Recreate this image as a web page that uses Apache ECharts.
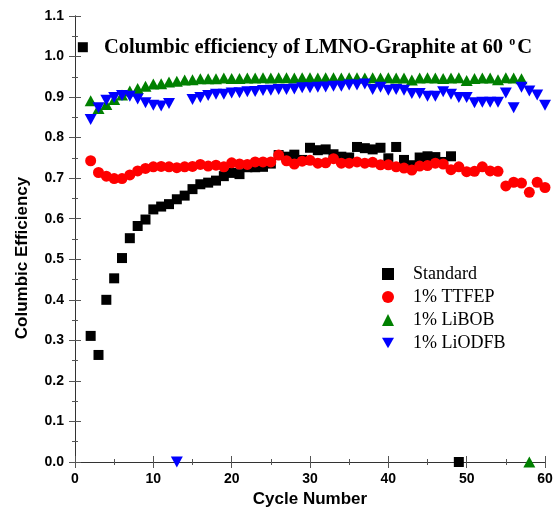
<!DOCTYPE html>
<html>
<head>
<meta charset="utf-8">
<script src="https://cdn.jsdelivr.net/npm/echarts@6/dist/echarts.min.js"></script>
<style>
  html, body { margin: 0; padding: 0; background: #fff; }
  #chart { width: 554px; height: 513px; }
</style>
</head>
<body>
<div id="chart"></div>
<script>
// cycle numbers 1..60
const cycles = [1, 2, 3, 4, 5, 6, 7, 8, 9, 10, 11, 12, 13, 14, 15, 16, 17, 18, 19, 20,
  21, 22, 23, 24, 25, 26, 27, 28, 29, 30, 31, 32, 33, 34, 35, 36, 37, 38, 39, 40,
  41, 42, 43, 44, 45, 46, 47, 48, 49, 50, 51, 52, 53, 54, 55, 56, 57, 58, 59, 60]

const standard = [1.023, 0.311, 0.264, 0.400, 0.453, 0.503, 0.552, 0.582, 0.598, 0.623,
  0.630, 0.636, 0.648, 0.657, 0.673, 0.685, 0.689, 0.694, 0.705, 0.713,
  0.710, 0.727, 0.727, 0.728, 0.736, 0.757, 0.753, 0.758, 0.745, 0.775,
  0.769, 0.771, 0.759, 0.753, 0.751, 0.777, 0.774, 0.771, 0.775, 0.749,
  0.777, 0.745, 0.732, 0.751, 0.754, 0.752, 0.740, 0.754, 0.0, null,
  null, null, null, null, null, null, null, null, null, null]

const ttfep = [null, 0.743, 0.714, 0.705, 0.699, 0.699, 0.708, 0.718, 0.724, 0.728,
  0.729, 0.728, 0.726, 0.728, 0.729, 0.734, 0.730, 0.732, 0.728, 0.738,
  0.735, 0.734, 0.740, 0.740, 0.740, 0.757, 0.743, 0.735, 0.742, 0.744,
  0.737, 0.738, 0.748, 0.737, 0.737, 0.740, 0.737, 0.739, 0.733, 0.733,
  0.728, 0.725, 0.720, 0.730, 0.731, 0.737, 0.735, 0.721, 0.728, 0.716,
  0.717, 0.728, 0.718, 0.717, 0.681, 0.690, 0.688, 0.665, 0.690, 0.677]

const libob = [null, 0.891, 0.872, 0.882, 0.894, 0.905, 0.915, 0.921, 0.927, 0.932,
  0.933, 0.937, 0.939, 0.942, 0.943, 0.945, 0.945, 0.945, 0.947, 0.946,
  0.946, 0.947, 0.947, 0.948, 0.947, 0.948, 0.948, 0.947, 0.948, 0.948,
  0.947, 0.948, 0.948, 0.947, 0.948, 0.948, 0.947, 0.948, 0.947, 0.948,
  0.947, 0.947, 0.942, 0.947, 0.948, 0.947, 0.946, 0.947, 0.948, 0.941,
  0.946, 0.947, 0.947, 0.943, 0.948, 0.947, 0.945, 0.0, null, null]

const liodfb = [null, 0.845, 0.874, 0.892, 0.899, 0.904, 0.902, 0.895, 0.886, 0.880,
  0.878, 0.884, 0.0, null, 0.894, 0.899, 0.904, 0.907, 0.907, 0.910,
  0.911, 0.913, 0.914, 0.916, 0.917, 0.919, 0.919, 0.920, 0.923, 0.923,
  0.924, 0.925, 0.927, 0.927, 0.930, 0.930, 0.932, 0.919, 0.924, 0.917,
  0.919, 0.917, 0.909, 0.909, 0.902, 0.902, 0.913, 0.907, 0.899, 0.899,
  0.886, 0.887, 0.887, 0.887, 0.910, 0.874, 0.924, 0.915, 0.905, 0.880]

const seriesNames = ['Standard', '1% TTFEP', '1% LiBOB', '1% LiODFB']
const yTicks = ['0.0', '0.1', '0.2', '0.3', '0.4', '0.5', '0.6', '0.7', '0.8', '0.9', '1.0', '1.1']

const serif = '"Liberation Serif", "Times New Roman", serif'
const sans = '"Liberation Sans", Arial, sans-serif'
const downTri = 'path://M0,0 L10,0 L5,8.7 Z'

function pairs(values) {
  return cycles.map((c, i) => [c, values[i]]).filter((p) => p[1] !== null)
}

const chart = echarts.init(document.getElementById('chart'))

const axisLine = { lineStyle: { color: '#333', width: 1 } }
const tickMajor = { inside: true, length: 6, lineStyle: { color: '#555' } }
const tickMinor = { show: true, splitNumber: 2, length: 3, lineStyle: { color: '#555' } }

const option = {
  animation: false,
  backgroundColor: '#fff',
  title: {
    text: '{a|Columbic efficiency of LMNO-Graphite at 60 }{s|o}{a|C}',
    left: 99,
    top: 31,
    textStyle: {
      rich: {
        a: { fontFamily: serif, fontWeight: 'bold', fontSize: 20.5, color: '#000', lineHeight: 24 },
        s: { fontFamily: serif, fontWeight: 'bold', fontSize: 12, color: '#000', verticalAlign: 'top', lineHeight: 24, padding: [0, 2, 0, 1] },
      },
    },
  },
  legend: {
    orient: 'vertical',
    left: 377,
    top: 260,
    itemWidth: 12,
    itemHeight: 12,
    itemGap: 5,
    data: [
      { name: seriesNames[0], icon: 'rect' },
      { name: seriesNames[1], icon: 'circle' },
      { name: seriesNames[2], icon: 'triangle' },
      { name: seriesNames[3], icon: downTri },
    ],
    textStyle: { fontFamily: serif, fontSize: 18, color: '#000', padding: [0, 0, 0, 14], lineHeight: 18 },
  },
  grid: { left: 75, right: 9, top: 16, bottom: 51, outerBoundsMode: 'none' },
  xAxis: [
    {
      type: 'value',
      min: 0,
      max: 60,
      interval: 10,
      name: 'Cycle Number',
      nameLocation: 'middle',
      nameGap: 28,
      nameTextStyle: { fontFamily: sans, fontWeight: 'bold', fontSize: 17, color: '#000' },
      axisLine,
      axisTick: tickMajor,
      minorTick: tickMinor,
      splitLine: { show: false },
      axisLabel: { fontFamily: sans, fontWeight: 'bold', fontSize: 14, color: '#000', margin: 10 },
    },
    {
      type: 'value',
      position: 'top',
      min: 0,
      max: 60,
      interval: 10,
      axisLine,
      axisTick: tickMajor,
      minorTick: tickMinor,
      splitLine: { show: false },
      axisLabel: { show: false },
    },
  ],
  yAxis: [
    {
      type: 'value',
      min: 0,
      max: 1.1,
      interval: 0.1,
      name: 'Columbic Efficiency',
      nameLocation: 'middle',
      nameGap: 44,
      nameTextStyle: { fontFamily: sans, fontWeight: 'bold', fontSize: 17, color: '#000', padding: [0, 38, 0, 0] },
      axisLine,
      axisTick: tickMajor,
      minorTick: tickMinor,
      splitLine: { show: false },
      axisLabel: {
        fontFamily: sans,
        fontWeight: 'bold',
        fontSize: 14,
        color: '#000',
        margin: 11,
        formatter: (v) => yTicks[Math.round(v * 10)],
      },
    },
    {
      type: 'value',
      position: 'right',
      min: 0,
      max: 1.1,
      interval: 0.1,
      axisLine,
      axisTick: tickMajor,
      minorTick: tickMinor,
      splitLine: { show: false },
      axisLabel: { show: false },
    },
  ],
  series: [
    {
      name: seriesNames[0],
      type: 'scatter',
      symbol: 'rect',
      symbolSize: 10,
      itemStyle: { color: '#000', opacity: 1 },
      data: pairs(standard),
    },
    {
      name: seriesNames[1],
      type: 'scatter',
      symbol: 'circle',
      symbolSize: 11,
      itemStyle: { color: '#ff0000', opacity: 1 },
      data: pairs(ttfep),
    },
    {
      name: seriesNames[2],
      type: 'scatter',
      symbol: 'triangle',
      symbolSize: [12, 11],
      itemStyle: { color: '#008000', opacity: 1 },
      data: pairs(libob),
    },
    {
      name: seriesNames[3],
      type: 'scatter',
      symbol: downTri,
      symbolSize: [12, 11],
      itemStyle: { color: '#0000ff', opacity: 1 },
      data: pairs(liodfb),
    },
  ],
}

chart.setOption(option)
</script>
</body>
</html>
